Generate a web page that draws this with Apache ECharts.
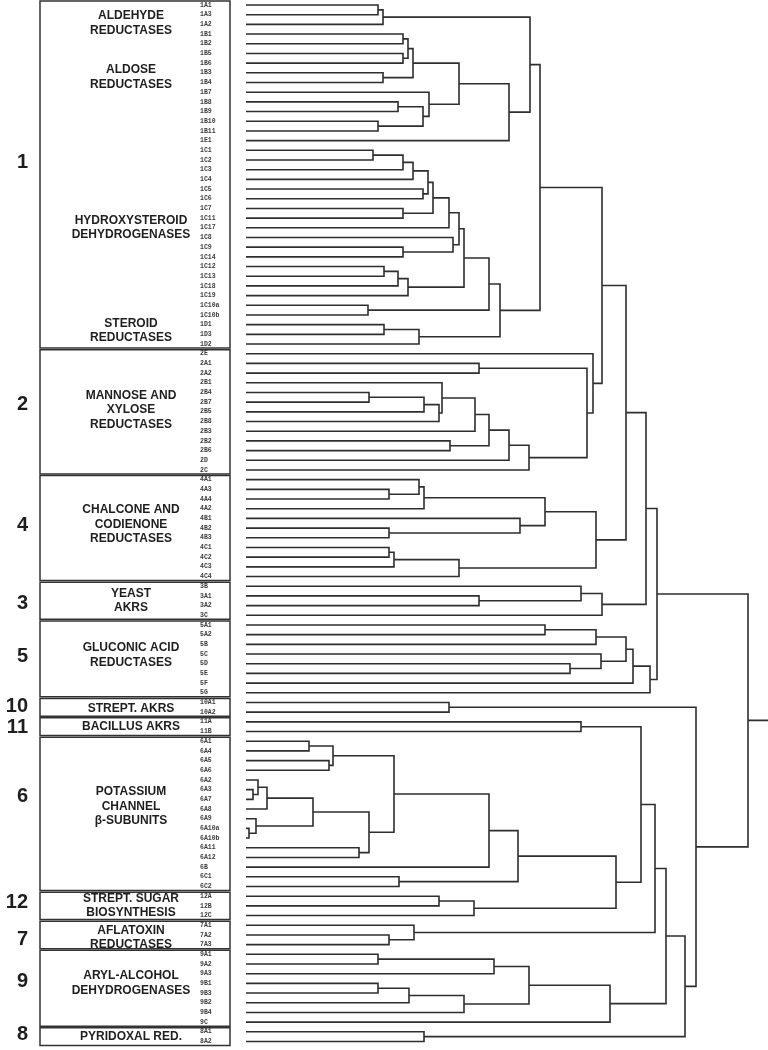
<!DOCTYPE html>
<html><head><meta charset="utf-8">
<script src="https://cdn.jsdelivr.net/npm/echarts@6/dist/echarts.min.js"></script>
<style>html,body{margin:0;padding:0;background:#fff}#c{width:768px;height:1050px}</style>
</head><body><div id="c"></div>
<script>
// ---- leaves (top to bottom) ----
const leaves = ['1A1','1A3','1A2','1B1','1B2','1B5','1B6','1B3','1B4','1B7','1B8','1B9','1B10','1B11','1E1',
'1C1','1C2','1C3','1C4','1C5','1C6','1C7','1C11','1C17','1C8','1C9','1C14','1C12','1C13','1C18','1C19','1C10a','1C10b','1D1','1D3','1D2',
'2E','2A1','2A2','2B1','2B4','2B7','2B5','2B8','2B3','2B2','2B6','2D','2C',
'4A1','4A3','4A4','4A2','4B1','4B2','4B3','4C1','4C2','4C3','4C4',
'3B','3A1','3A2','3C',
'5A1','5A2','5B','5C','5D','5E','5F','5G',
'10A1','10A2','11A','11B',
'6A1','6A4','6A5','6A6','6A2','6A3','6A7','6A8','6A9','6A10a','6A10b','6A11','6A12','6B','6C1','6C2',
'12A','12B','12C','7A1','7A2','7A3',
'9A1','9A2','9A3','9B1','9B3','9B2','9B4','9C','8A1','8A2'];

// ---- merges: [node, childA, childB, distance] ----
const clade1 = [
 ['n1','1A1','1A3',132],['n2','n1','1A2',137],
 ['n3','1B1','1B2',157],['n4','1B5','1B6',157],['n5','n3','n4',162],['n6','1B3','1B4',137],['n7','n5','n6',167],
 ['n8','1B8','1B9',152],['n9','1B10','1B11',132],['n10','n8','n9',177],['n11','1B7','n10',183],['n12','n7','n11',213],
 ['n13','n12','1E1',263],['n14','n2','n13',284],
 ['c1','1C1','1C2',127],['c2','c1','1C3',157],['c3','c2','1C4',167],['c4','1C5','1C6',177],['c5','c3','c4',182],
 ['c6','1C7','1C11',157],['c7','c5','c6',187],['c8','c7','1C17',203],['c9','1C9','1C14',157],['c10','1C8','c9',207],
 ['c11','c8','c10',213],['c12','1C12','1C13',138],['c13','c12','1C18',152],['c14','c13','1C19',162],['c15','c11','c14',218],
 ['c16','1C10a','1C10b',122],['c17','c15','c16',243],['c18','1D1','1D3',138],['c19','c18','1D2',173],['c20','c17','c19',254],
 ['f1','n14','c20',294]
];
const clade2 = [
 ['d1','2A1','2A2',233],['d2','2B4','2B7',123],['d3','d2','2B5',178],['d4','d3','2B8',193],['d5','2B1','d4',196],
 ['d6','d5','2B3',229],['d7','2B2','2B6',204],['d8','d6','d7',243],['d9','d8','2D',263],['d10','d9','2C',283],
 ['d11','d1','d10',341],['f2','2E','d11',347]
];
const clade4 = [
 ['e1','4A3','4A4',143],['e2','4A1','e1',173],['e3','e2','4A2',178],['e4','4B2','4B3',143],['e5','4B1','e4',274],
 ['e6','e3','e5',299],['e7','4C1','4C2',143],['e8','e7','4C3',148],['e9','e8','4C4',213],['f4','e6','e9',350]
];
const clade3 = [['g1','3A1','3A2',233],['g2','3B','g1',335],['f3','g2','3C',356]];
const clade5 = [['h1','5A1','5A2',299],['h2','h1','5B',350],['h3','5D','5E',324],['h4','5C','h3',355],
 ['h5','h2','h4',380],['h6','h5','5F',387],['f5','h6','5G',404]];
const clade6 = [
 ['m1','6A1','6A4',63],['m2','6A5','6A6',83],['m3','m1','m2',87],['m4','6A3','6A7',7],['m5','6A2','m4',12],['m6','m5','6A8',21],
 ['m7','6A10a','6A10b',3],['m8','6A9','m7',10],['m9','m6','m8',67],['m10','6A11','6A12',113],['m11','m9','m10',123],
 ['m12','m3','m11',148],['m13','m12','6B',243],['m14','6C1','6C2',153],['f6','m13','m14',272]
];
const cladeSmall = [
 ['f10','10A1','10A2',203],['f11','11A','11B',335],['o1','12A','12B',193],['f12','o1','12C',228],
 ['p1','7A2','7A3',143],['f7','7A1','p1',168],
 ['q1','9A1','9A2',132],['q2','q1','9A3',248],['q3','9B1','9B3',132],['q4','q3','9B2',163],['q5','q4','9B4',218],
 ['q6','q2','q5',283],['f9','q6','9C',364],
 ['f8','8A1','8A2',178]
];
const upperJoins = [
 ['u1','f1','f2',356],['u2','u1','f4',380],['u3','u2','f3',400],['u4','u3','f5',411],
 ['v1','f6','f12',370],['v2','f11','v1',395],['v3','v2','f7',409],['v4','v3','f9',420],['v5','v4','f8',439],['v6','f10','v5',450],
 ['root','u4','v6',502]
];
const distanceMax = 522;

// ---- family annotation ----
const familyIds = ['1','2','4','3','5','10','11','6','12','7','9','8'];
const familyNumberRows = [16.3, 41.2, 53.7, 61.8, 67.3, 72.4, 74.6, 81.7, 92.7, 96.5, 100.8, 106.3];
const groupLabels = ['ALDEHYDE\nREDUCTASES','ALDOSE\nREDUCTASES','HYDROXYSTEROID\nDEHYDROGENASES','STEROID\nREDUCTASES',
 'MANNOSE AND\nXYLOSE\nREDUCTASES','CHALCONE AND\nCODIENONE\nREDUCTASES','YEAST\nAKRS','GLUCONIC ACID\nREDUCTASES',
 'STREPT. AKRS','BACILLUS AKRS','POTASSIUM\nCHANNEL\nβ-SUBUNITS','STREPT. SUGAR\nBIOSYNTHESIS','AFLATOXIN\nREDUCTASES',
 'ARYL-ALCOHOL\nDEHYDROGENASES','PYRIDOXAL RED.'];
const groupLabelRows = [1.9, 7.45, 23.0, 33.6, 41.8, 53.6, 61.5, 67.1, 72.6, 74.5, 82.75, 93.0, 96.3, 101.0, 106.5];

// ---- build node positions ----
const nodes = {};
leaves.forEach((l, i) => { nodes[l] = {h: 0, y: i}; });
const allMerges = [].concat(clade1, clade2, clade4, clade3, clade5, clade6, cladeSmall, upperJoins);
const treeData = [];
allMerges.forEach(([id, a, b, h]) => {
  const A = nodes[a], B = nodes[b];
  nodes[id] = {h: h, y: (A.y + B.y) / 2};
  treeData.push([h, nodes[id].y, A.h, A.y, B.h, B.y]);
});
const R = nodes['root'];
treeData.push([distanceMax, R.y, R.h, R.y, R.h, R.y]);

const famOf = l => l.match(/^\d+/)[0];
const boxData = familyIds.map(f => {
  const idx = leaves.map((l, i) => famOf(l) === f ? i : -1).filter(i => i >= 0);
  return [idx[0] - 0.5, idx[idx.length - 1] + 0.5];
});

const STROKE = '#2e2e2e';
const chart = echarts.init(document.getElementById('c'), null, {renderer: 'canvas'});
const hiddenAxis = {show: false};
chart.setOption({
  animation: false,
  backgroundColor: '#fff',
  grid: [
    {left: 246, right: 0, top: 5, bottom: 8.5},
    {left: 0, width: 246, top: 5, bottom: 8.5}
  ],
  xAxis: [
    {type: 'value', gridIndex: 0, min: 0, max: distanceMax, show: false},
    {type: 'value', gridIndex: 1, min: 0, max: 246, show: false}
  ],
  yAxis: [
    {type: 'value', gridIndex: 0, min: 0, max: leaves.length - 1, interval: 1, inverse: true,
     axisLine: {show: false}, axisTick: {show: false}, splitLine: {show: false},
     axisLabel: {formatter: v => leaves[v] || '', align: 'left', margin: 46, fontSize: 6.5,
       fontFamily: 'Liberation Mono', fontWeight: 'bold', color: '#3a3a3a'}},
    {type: 'value', gridIndex: 1, min: 0, max: leaves.length - 1, inverse: true, show: false}
  ],
  series: [
    {type: 'custom', xAxisIndex: 0, yAxisIndex: 0, clip: false, silent: true,
     data: treeData,
     renderItem: (params, api) => {
       const a = api.coord([api.value(2), api.value(3)]);
       const b = api.coord([api.value(0), api.value(3)]);
       const c = api.coord([api.value(0), api.value(5)]);
       const d = api.coord([api.value(4), api.value(5)]);
       return {type: 'polyline', shape: {points: [a, b, c, d]},
               style: {stroke: STROKE, lineWidth: 1.6, fill: null}};
     }},
    {type: 'custom', xAxisIndex: 1, yAxisIndex: 1, clip: false, silent: true,
     data: boxData,
     renderItem: (params, api) => {
       const p0 = api.coord([40, api.value(0)]);
       const p1 = api.coord([230, api.value(1)]);
       return {type: 'rect', shape: {x: p0[0], y: p0[1] + 0.8, width: p1[0] - p0[0], height: p1[1] - p0[1] - 1.6},
               style: {stroke: '#333', lineWidth: 1.5, fill: null}};
     }},
    {type: 'custom', xAxisIndex: 1, yAxisIndex: 1, clip: false, silent: true,
     data: groupLabelRows.map((r, i) => [r, i]),
     renderItem: (params, api) => {
       const p = api.coord([131, api.value(0)]);
       return {type: 'text', x: p[0], y: p[1],
               style: {text: groupLabels[api.value(1)], align: 'center', verticalAlign: 'middle',
                       font: 'bold 12px "Liberation Sans", Arial, sans-serif', lineHeight: 14.5, fill: '#1e1e1e'}};
     }},
    {type: 'custom', xAxisIndex: 1, yAxisIndex: 1, clip: false, silent: true,
     data: familyNumberRows.map((r, i) => [r, i]),
     renderItem: (params, api) => {
       const p = api.coord([28, api.value(0)]);
       return {type: 'text', x: p[0], y: p[1],
               style: {text: familyIds[api.value(1)], align: 'right', verticalAlign: 'middle',
                       font: 'bold 20px "Liberation Sans", Arial, sans-serif', fill: '#1e1e1e'}};
     }}
  ]
});
</script></body></html>
